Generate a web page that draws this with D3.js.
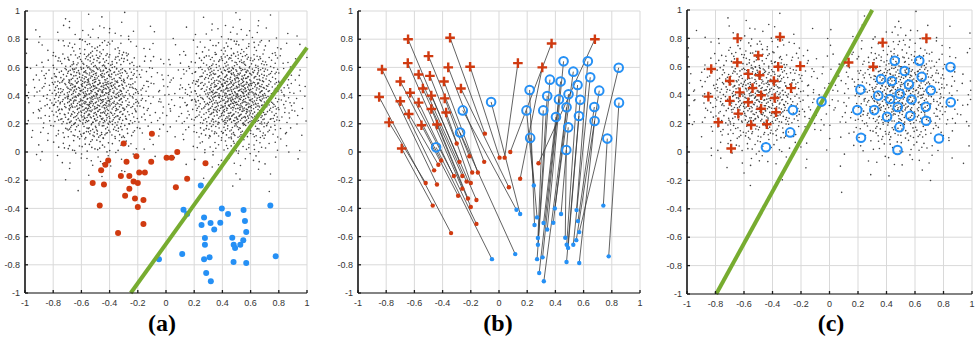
<!DOCTYPE html>
<html><head><meta charset="utf-8">
<script src="https://cdn.jsdelivr.net/npm/d3@7"></script>
<style>body{margin:0;background:#fff}svg{display:block}</style>
</head><body><svg id="chart" width="977" height="347"></svg>
<script>
// ---------------- data ----------------
const tickValues = [-1,-0.8,-0.6,-0.4,-0.2,0,0.2,0.4,0.6,0.8,1];
const tickLabels = ["-1","-0.8","-0.6","-0.4","-0.2","0","0.2","0.4","0.6","0.8","1"];
const panelLabels = ["(a)","(b)","(c)"];

// labelled source samples (panel a) and their mapped positions (panel c), paired by index
const redSource = [[-0.52,-0.22],[-0.34,-0.575],[-0.44,-0.23],[-0.46,-0.13],[-0.43,-0.09],[-0.41,-0.06],[-0.29,-0.31],[-0.32,-0.17],[-0.16,-0.51],[-0.26,-0.26],[-0.20,-0.39],[-0.22,-0.33],[-0.26,-0.17],[-0.23,-0.21],[-0.16,-0.34],[-0.28,-0.07],[-0.20,-0.22],[-0.30,0.06],[-0.19,-0.145],[-0.21,-0.03],[-0.15,-0.145],[-0.105,-0.07],[0.07,-0.25],[-0.47,-0.38],[-0.10,0.13],[0.004,-0.04],[0.04,-0.04],[0.08,0.00],[0.15,-0.19],[0.28,-0.08]];
const redMapped = [[-0.78,0.21],[-0.85,0.39],[-0.83,0.585],[-0.70,0.36],[-0.64,0.27],[-0.70,0.50],[-0.55,0.19],[-0.63,0.42],[-0.57,0.35],[-0.647,0.63],[-0.44,0.195],[-0.48,0.305],[-0.54,0.45],[-0.57,0.55],[-0.48,0.40],[-0.645,0.80],[-0.375,0.28],[-0.49,0.54],[-0.385,0.38],[-0.50,0.68],[-0.39,0.50],[-0.36,0.60],[-0.27,0.45],[-0.69,0.025],[-0.347,0.81],[-0.205,0.605],[0.134,0.63],[0.373,0.77],[0.307,0.60],[0.68,0.80]];
const blueSource = [[-0.05,-0.76],[0.15,-0.44],[0.124,-0.41],[0.115,-0.724],[0.247,-0.237],[0.252,-0.518],[0.27,-0.464],[0.276,-0.61],[0.276,-0.658],[0.27,-0.76],[0.316,-0.504],[0.285,-0.858],[0.309,-0.747],[0.342,-0.55],[0.318,-0.917],[0.385,-0.502],[0.396,-0.40],[0.44,-0.44],[0.47,-0.608],[0.48,-0.658],[0.479,-0.78],[0.49,-0.68],[0.55,-0.412],[0.527,-0.658],[0.56,-0.49],[0.569,-0.787],[0.548,-0.625],[0.74,-0.38],[0.569,-0.568],[0.778,-0.74]];
const blueMapped = [[-0.446,0.033],[-0.056,0.355],[-0.257,0.295],[-0.276,0.138],[0.195,0.295],[0.217,0.44],[0.221,0.10],[0.314,0.295],[0.342,0.397],[0.361,0.513],[0.404,0.248],[0.437,0.50],[0.425,0.373],[0.458,0.643],[0.479,0.317],[0.493,0.41],[0.527,0.57],[0.491,0.175],[0.477,0.014],[0.557,0.475],[0.576,0.37],[0.567,0.255],[0.63,0.643],[0.647,0.53],[0.676,0.319],[0.678,0.22],[0.711,0.435],[0.768,0.095],[0.849,0.598],[0.851,0.35]];

// decision boundaries
const boundaryA = [[-0.25,-1],[1,0.74]];
const boundaryC = [[-0.795,-1],[0.30,1]];

// unlabelled cloud: dot counts per 0.1 x 0.1 cell, rows from y=1 downward, columns from x=-1
const cloudCountsA = [
 [0,0,1,1,1,1,1,1,0,0,0,0,1,1,1,1,1,1,0,0],
 [1,1,2,3,4,4,3,2,1,1,1,1,2,3,4,4,3,2,1,1],
 [1,2,4,7,9,9,7,4,2,1,1,2,4,7,9,9,7,4,2,1],
 [2,4,9,15,19,19,15,9,4,3,3,4,9,15,19,19,15,9,4,2],
 [3,7,15,25,32,32,25,15,7,4,4,7,15,25,32,32,25,15,7,3],
 [4,9,19,32,40,40,32,19,9,5,5,9,19,32,40,40,32,19,9,4],
 [4,9,19,32,40,40,32,19,9,5,5,9,19,32,40,40,32,19,9,4],
 [3,7,15,25,32,32,25,15,7,4,4,7,15,25,32,32,25,15,7,3],
 [2,4,9,15,19,19,15,9,4,3,3,4,9,15,19,19,15,9,4,2],
 [1,2,4,7,9,9,7,4,2,1,1,2,4,7,9,9,7,4,2,1],
 [1,1,2,3,4,4,3,2,1,1,1,1,2,3,4,4,3,2,1,1],
 [0,0,1,1,1,1,1,1,0,0,0,0,1,1,1,1,1,1,0,0],
 [0,0,0,1,0,0,0,0,1,0,0,0,0,0,1,0,0,1,0,0]
];
const cloudCountsC = [
 [0,0,1,0,1,0,1,0,0,0,0,0,1,0,1,0,1,0,0,0],
 [1,1,1,2,3,3,2,1,1,0,1,1,1,2,3,3,2,1,1,1],
 [1,1,3,5,6,6,5,3,1,1,1,1,3,5,6,6,5,3,1,1],
 [1,3,6,10,12,12,10,6,3,2,2,3,6,10,12,12,10,6,3,1],
 [2,5,10,16,21,21,16,10,5,3,3,5,10,16,21,21,16,10,5,2],
 [3,6,12,21,26,26,21,12,6,3,3,6,12,21,26,26,21,12,6,3],
 [3,6,12,21,26,26,21,12,6,3,3,6,12,21,26,26,21,12,6,3],
 [2,5,10,16,21,21,16,10,5,3,3,5,10,16,21,21,16,10,5,2],
 [1,3,6,10,12,12,10,6,3,2,2,3,6,10,12,12,10,6,3,1],
 [1,1,3,5,6,6,5,3,1,1,1,1,3,5,6,6,5,3,1,1],
 [1,1,1,2,3,3,2,1,1,0,1,1,1,2,3,3,2,1,1,1],
 [0,0,1,0,1,0,1,0,1,0,0,0,1,0,1,0,1,0,0,0],
 [0,0,0,0,1,0,0,0,0,0,1,0,0,0,0,0,0,1,0,0]
];

// ---------------- drawing ----------------
const RED = "#d03a10", BLUE = "#2590f5", GREEN = "#77ac30";
const svg = d3.select("#chart");
svg.append("rect").attr("width",977).attr("height",347).attr("fill","#fff");

const layout = [
  {x0:25, x1:307, y0:293, y1:11, lx:162},
  {x0:358, x1:640, y0:293, y1:11, lx:498},
  {x0:687, x1:972, y0:294, y1:10, lx:831}
];

function makePanel(i){
  const L = layout[i];
  const sx = d3.scaleLinear().domain([-1,1]).range([L.x0,L.x1]);
  const sy = d3.scaleLinear().domain([-1,1]).range([L.y0,L.y1]);
  const g = svg.append("g");
  const grid = g.append("g");
  grid.selectAll(".v").data(tickValues).enter().append("line")
    .attr("x1",d=>sx(d)).attr("x2",d=>sx(d)).attr("y1",sy(-1)).attr("y2",sy(1))
    .attr("stroke","#d9d9d9").attr("stroke-width",1);
  grid.selectAll(".h").data(tickValues).enter().append("line")
    .attr("y1",d=>sy(d)).attr("y2",d=>sy(d)).attr("x1",sx(-1)).attr("x2",sx(1))
    .attr("stroke","#d9d9d9").attr("stroke-width",1);
  const content = g.append("g");
  return {g, sx, sy, content, L};
}

function finishAxes(P, i){
  const {g, sx, sy, L} = P;
  const ax = g.append("g");
  ax.append("line").attr("x1",sx(-1)).attr("x2",sx(1)).attr("y1",sy(-1)).attr("y2",sy(-1))
    .attr("stroke","#1a1a1a").attr("stroke-width",1.2);
  ax.append("line").attr("x1",sx(-1)).attr("x2",sx(-1)).attr("y1",sy(-1)).attr("y2",sy(1))
    .attr("stroke","#1a1a1a").attr("stroke-width",1.6);
  ax.selectAll(".tb").data(tickValues).enter().append("line")
    .attr("x1",d=>sx(d)).attr("x2",d=>sx(d)).attr("y1",sy(-1)).attr("y2",sy(-1)-3)
    .attr("stroke","#1a1a1a").attr("stroke-width",1.3);
  ax.selectAll(".tl").data(tickValues).enter().append("line")
    .attr("y1",d=>sy(d)).attr("y2",d=>sy(d)).attr("x1",sx(-1)).attr("x2",sx(-1)+3)
    .attr("stroke","#1a1a1a").attr("stroke-width",1.3);
  ax.selectAll(".xl").data(tickValues).enter().append("text")
    .attr("x",d=>sx(d)).attr("y",sy(-1)+13).attr("text-anchor","middle")
    .attr("font-family","Liberation Sans, Arial, sans-serif").attr("font-size",9).attr("fill","#333")
    .text((d,k)=>tickLabels[k]);
  ax.selectAll(".yl").data(tickValues).enter().append("text")
    .attr("x",sx(-1)-5).attr("y",d=>sy(d)).attr("dy","0.35em").attr("text-anchor","end")
    .attr("font-family","Liberation Sans, Arial, sans-serif").attr("font-size",9).attr("fill","#333")
    .text((d,k)=>tickLabels[k]);
  svg.append("text").attr("x",L.lx).attr("y",331).attr("text-anchor","middle")
    .attr("font-family","Liberation Serif, Times New Roman, serif").attr("font-weight","bold")
    .attr("font-size",24).attr("fill","#000").text(panelLabels[i]);
}

// low-discrepancy placement of a cell's dots (layout only, counts come from the data)
function radicalInverse(n, base){
  let inv = 1/base, f = inv, r = 0;
  while (n > 0){ r += (n % base) * f; n = Math.floor(n/base); f *= inv; }
  return r;
}

function drawCloud(P, counts, color){
  const pts = [];
  let k = 7;
  counts.forEach((row, r) => {
    const yTop = 1 - r*0.1;
    row.forEach((n, c) => {
      const xLeft = -1 + c*0.1;
      for (let j=0;j<n;j++){
        const u = radicalInverse(k, 2);
        const v = radicalInverse(k, 3);
        k += 13;
        pts.push([xLeft + u*0.1, yTop - v*0.1]);
      }
    });
  });
  P.content.append("g").selectAll("circle").data(pts).enter().append("circle")
    .attr("cx",d=>P.sx(d[0])).attr("cy",d=>P.sy(d[1])).attr("r",0.8).attr("fill",color);
}

function drawBoundary(P, seg){
  const line = d3.line().x(d=>P.sx(d[0])).y(d=>P.sy(d[1]));
  P.content.append("path").attr("d",line(seg)).attr("stroke",GREEN)
    .attr("stroke-width",4).attr("fill","none");
}

function drawDots(P, data, color, r){
  P.content.append("g").selectAll("circle").data(data).enter().append("circle")
    .attr("cx",d=>P.sx(d[0])).attr("cy",d=>P.sy(d[1])).attr("r",r).attr("fill",color);
}

function drawPluses(P, data){
  P.content.append("g").selectAll("path").data(data).enter().append("path")
    .attr("transform",d=>`translate(${P.sx(d[0])},${P.sy(d[1])})`)
    .attr("d","M-4.8,0H4.8M0,-4.8V4.8").attr("stroke",RED).attr("stroke-width",2.4).attr("fill","none");
}

function drawRings(P, data){
  P.content.append("g").selectAll("circle").data(data).enter().append("circle")
    .attr("cx",d=>P.sx(d[0])).attr("cy",d=>P.sy(d[1])).attr("r",4.3)
    .attr("stroke",BLUE).attr("stroke-width",2).attr("fill","none");
}

// panel (a)
const A = makePanel(0);
drawCloud(A, cloudCountsA, "#404040");
drawDots(A, redSource, RED, 3);
drawDots(A, blueSource, BLUE, 3);
drawBoundary(A, boundaryA);
finishAxes(A, 0);

// panel (b)
const B = makePanel(1);
const links = redSource.map((s,k)=>[s, redMapped[k]]).concat(blueSource.map((s,k)=>[s, blueMapped[k]]));
B.content.append("g").selectAll("line").data(links).enter().append("line")
  .attr("x1",d=>B.sx(d[0][0])).attr("y1",d=>B.sy(d[0][1]))
  .attr("x2",d=>B.sx(d[1][0])).attr("y2",d=>B.sy(d[1][1]))
  .attr("stroke","#3a3a3a").attr("stroke-width",0.8);
drawDots(B, redSource, RED, 2.2);
drawDots(B, blueSource, BLUE, 2.2);
drawPluses(B, redMapped);
drawRings(B, blueMapped);
finishAxes(B, 1);

// panel (c)
const C = makePanel(2);
drawCloud(C, cloudCountsC, "#404040");
drawBoundary(C, boundaryC);
drawPluses(C, redMapped);
drawRings(C, blueMapped);
finishAxes(C, 2);
</script>
</body></html>
